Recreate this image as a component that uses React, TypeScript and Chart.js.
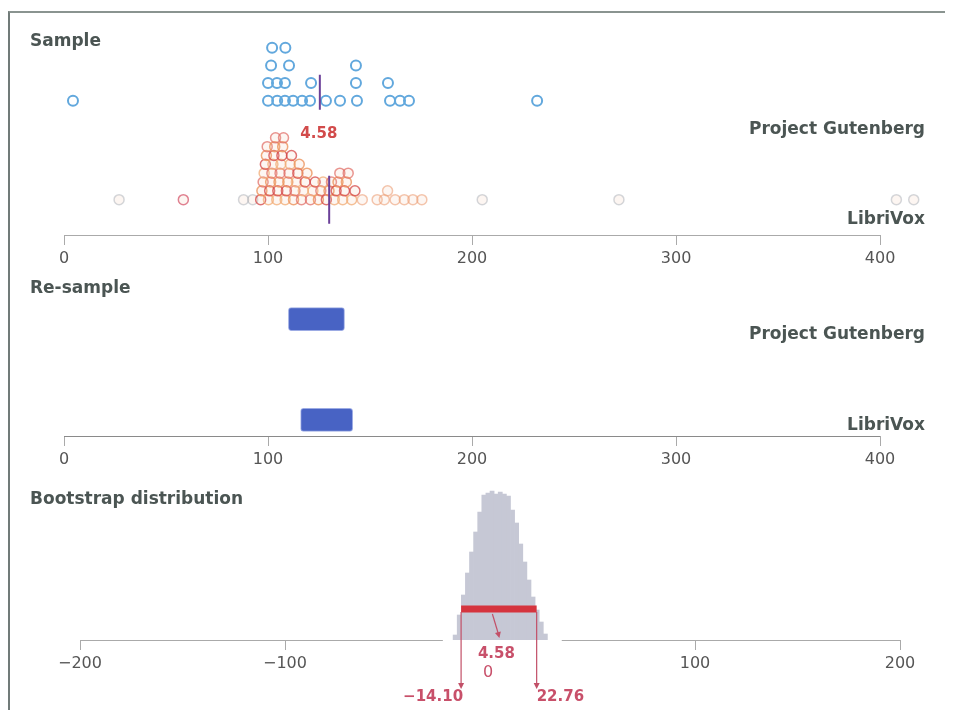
import { useEffect, useRef } from "react";
import { Chart, registerables } from "chart.js";

Chart.register(...registerables);
Chart.defaults.font.family = "'DejaVu Sans', sans-serif";

// ---- Sample: chapter lengths (minutes) ----
const gutenbergMinutes = [
  4.4, 100.0, 104.5, 108.3, 112.3, 116.7, 120.6, 128.4, 135.3, 143.6, 159.8, 164.7, 169.1, 231.9,
  100.0, 104.4, 108.3, 121.1, 143.1, 158.8,
  101.5, 110.3, 143.1,
  102.0, 108.5,
];

const libriVoxMinutes = [
  27.0, 58.5, 88.0, 92.5,
  96.4, 97.0, 97.6, 98.1, 98.7, 99.2, 99.6,
  100.2, 100.8, 101.3, 101.9, 102.4, 102.9, 103.3, 103.7,
  104.3, 104.8, 105.4, 105.9, 106.3, 106.8, 107.2, 107.6,
  108.4, 109.0, 109.7, 110.3, 110.9, 111.5,
  112.5, 113.2, 113.9, 114.6, 115.3,
  116.4, 117.3, 118.2, 119.1,
  120.8, 122.0, 123.1,
  124.7, 125.9, 127.0,
  128.6, 129.9, 131.1,
  132.5, 133.4, 134.3, 135.2,
  136.6, 137.5, 138.4, 139.3,
  141.0, 142.6,
  146.2, 153.5, 157.0, 158.6, 162.3, 166.8, 171.0, 175.4,
  205.0, 272.0, 408.0, 416.5,
];

const meanGutenberg = 125.4;
const meanLibriVox = 129.98;

// ---- Re-sample: spread of re-sampled means ----
const resampleGutenberg = [110, 137.5];
const resampleLibriVox = [116, 141.5];

// ---- Bootstrap distribution of the difference in means ----
const bootstrapDiffs = [-17, -15, -13, -11, -9, -7, -5, -3, -1, 1, 3, 5, 7, 9, 11, 13, 15, 17, 19, 21, 23, 25, 27];
const bootstrapCounts = [5, 25, 45, 67, 88, 108, 128, 145, 147, 149, 146, 148, 146, 144, 130, 117, 96, 78, 60, 43, 30, 18, 6];
const ciLow = -14.1;
const ciHigh = 22.76;

const sampleTicks = [0, 100, 200, 300, 400];
const diffTicks = [-200, -100, 0, 100, 200];

const observedDiff = meanLibriVox - meanGutenberg;
const fmt = (v: number) => v.toFixed(2).replace("-", "\u2212");

// dot-plot layout (y units)
const BIN = 4;
const GUT_BASE = 7.6;
const GUT_STEP = 1;
const LIB_BASE = 2.0;
const LIB_STEP = 0.5;
const LANE_GUT = 6.4;
const LANE_LIB = 0.88;

const W = 937;

function stackDots(values: number[], base: number, step: number) {
  const levels = new Map<number, number>();
  return values.map((v) => {
    const b = Math.floor(v / BIN);
    const n = levels.get(b) ?? 0;
    levels.set(b, n + 1);
    return { x: v, y: base + n * step };
  });
}

const warm = [
  "rgba(212,70,70,0.75)",
  "rgba(236,148,92,0.8)",
  "rgba(224,106,98,0.7)",
  "rgba(242,172,118,0.75)",
];

function libColor(v: number, i: number) {
  if (v < 50 || v > 190 || (v > 80 && v < 95)) return "rgba(160,166,175,0.45)";
  if (v < 80) return "rgba(214,88,110,0.75)";
  if (v > 145) return "rgba(236,160,120,0.6)";
  return warm[i % warm.length];
}

// Value axis: tick marks at the given ticks; the plotted range may run past
// the last tick (hi) so that far points stay inside the chart area.
function valueAxis(ticks: number[], hi: number, label?: (v: number) => string) {
  return {
    type: "linear",
    min: ticks[0],
    max: hi,
    bounds: "data",
    offset: false,
    afterFit: (s: any) => {
      s.height = 40;
    },
    afterBuildTicks: (s: any) => {
      s.ticks = ticks.map((value) => ({ value }));
    },
    border: { display: false },
    grid: { display: true, drawOnChartArea: false, drawTicks: true, tickLength: 10, color: "#aaaaaa", offset: false },
    ticks: {
      color: "#555",
      font: { family: "'DejaVu Sans'", size: 16 },
      padding: 4,
      maxRotation: 0,
      autoSkip: false,
      callback: (v: number) => (label ? label(v) : String(v)),
    },
  };
}

// Axis line running from the first to the last tick
function axisLine(color: string, ticks: number[]) {
  return {
    id: "axisLine",
    beforeDatasetsDraw(chart: any) {
      const { ctx, chartArea: a, scales } = chart;
      const l = scales.x.getPixelForValue(ticks[0]);
      const r = scales.x.getPixelForValue(ticks[ticks.length - 1]);
      const y = Math.round(a.bottom) + 0.5;
      ctx.save();
      ctx.strokeStyle = color;
      ctx.lineWidth = 1;
      ctx.beginPath();
      ctx.moveTo(l, y);
      ctx.lineTo(r, y);
      ctx.stroke();
      ctx.restore();
    },
  };
}

function arrowHead(ctx: CanvasRenderingContext2D, x: number, y: number, dx: number, dy: number, size: number) {
  const len = Math.hypot(dx, dy);
  const ux = dx / len;
  const uy = dy / len;
  ctx.beginPath();
  ctx.moveTo(x, y);
  ctx.lineTo(x - ux * size - uy * size * 0.5, y - uy * size + ux * size * 0.5);
  ctx.lineTo(x - ux * size + uy * size * 0.5, y - uy * size - ux * size * 0.5);
  ctx.closePath();
  ctx.fill();
}

const baseOptions = {
  responsive: false,
  animation: false,
  events: [],
  plugins: { legend: { display: false }, tooltip: { enabled: false } },
};

// Mean markers and difference label on the sample dot plot
const meanLines = {
  id: "meanLines",
  afterDatasetsDraw(chart: any) {
    const { ctx, scales } = chart;
    const { x, y } = scales;
    const gx = x.getPixelForValue(meanGutenberg);
    const lx = x.getPixelForValue(meanLibriVox);
    const gy = y.getPixelForValue(GUT_BASE);
    const ly = y.getPixelForValue(LIB_BASE);
    ctx.save();
    ctx.strokeStyle = "#6b4099";
    ctx.lineWidth = 2;
    ctx.beginPath();
    ctx.moveTo(gx, gy - 26);
    ctx.lineTo(gx, gy + 9);
    ctx.moveTo(lx, ly - 24);
    ctx.lineTo(lx, ly + 24);
    ctx.stroke();
    ctx.fillStyle = "#d24b4b";
    ctx.font = "bold 15px 'DejaVu Sans'";
    ctx.textAlign = "center";
    ctx.textBaseline = "middle";
    ctx.fillText(fmt(observedDiff), gx - 1, ly - 66);
    ctx.restore();
  },
};

// Confidence interval bar, leader arrows and labels on the bootstrap plot
const bootstrapOverlay = {
  id: "bootstrapOverlay",
  beforeDatasetsDraw(chart: any) {
    const { ctx, chartArea: a, scales } = chart;
    const l = scales.x.getPixelForValue(-23);
    const r = scales.x.getPixelForValue(35);
    ctx.save();
    ctx.fillStyle = "#fff";
    ctx.fillRect(l, a.bottom - 2, r - l, 14);
    ctx.restore();
  },
  afterDatasetsDraw(chart: any) {
    const { ctx, chartArea: a, scales } = chart;
    const x = scales.x;
    const xl = x.getPixelForValue(ciLow);
    const xr = x.getPixelForValue(ciHigh);
    const xm = x.getPixelForValue(observedDiff);
    const x0 = x.getPixelForValue(0);
    const yBar = a.bottom - 31;
    ctx.save();
    ctx.strokeStyle = "#d5343e";
    ctx.lineWidth = 7;
    ctx.beginPath();
    ctx.moveTo(xl, yBar);
    ctx.lineTo(xr, yBar);
    ctx.stroke();

    ctx.strokeStyle = "#c25068";
    ctx.fillStyle = "#c25068";
    ctx.lineWidth = 1.2;
    for (const px of [xl, xr]) {
      ctx.beginPath();
      ctx.moveTo(px, yBar + 3);
      ctx.lineTo(px, a.bottom + 44);
      ctx.stroke();
      arrowHead(ctx, px, a.bottom + 49, 0, 1, 6);
    }
    ctx.beginPath();
    ctx.moveTo(xm - 7, yBar + 5);
    ctx.lineTo(xm - 1, a.bottom - 6);
    ctx.stroke();
    arrowHead(ctx, xm, a.bottom - 2, 1, 4, 6);

    ctx.fillStyle = "#c8506a";
    ctx.textBaseline = "middle";
    ctx.font = "bold 15px 'DejaVu Sans'";
    ctx.textAlign = "right";
    ctx.fillText(fmt(ciLow), xl + 2, a.bottom + 57);
    ctx.textAlign = "left";
    ctx.fillText(fmt(ciHigh), xr, a.bottom + 57);
    ctx.textAlign = "center";
    ctx.fillText(fmt(observedDiff), xm - 3, a.bottom + 14);
    ctx.font = "16px 'DejaVu Sans'";
    ctx.fillText("0", x0 - 2, a.bottom + 33);
    ctx.restore();
  },
};

function sampleConfig(): any {
  return {
    type: "scatter",
    data: {
      datasets: [
        {
          data: stackDots(libriVoxMinutes, LIB_BASE, LIB_STEP),
          pointRadius: 5,
          borderWidth: 1.5,
          pointBorderColor: (c: any) => libColor(c.raw ? c.raw.x : 0, c.dataIndex),
          pointBackgroundColor: "rgba(240,180,150,0.12)",
          clip: false,
        },
        {
          data: stackDots(gutenbergMinutes, GUT_BASE, GUT_STEP),
          pointRadius: 5,
          borderWidth: 2,
          pointBorderColor: "#62a8dd",
          pointBackgroundColor: "rgba(255,255,255,0)",
          clip: false,
        },
      ],
    },
    options: {
      ...baseOptions,
      layout: { padding: { left: 56, right: 0.6, top: 4, bottom: 0 } },
      scales: {
        x: valueAxis(sampleTicks, 428.4),
        y: { type: "linear", display: false, min: 0, max: 12 },
      },
    },
    plugins: [axisLine("#aaaaaa", sampleTicks), meanLines],
  };
}

function resampleConfig(): any {
  return {
    type: "bar",
    data: {
      datasets: [
        {
          data: [
            { x: resampleGutenberg, y: LANE_GUT },
            { x: resampleLibriVox, y: LANE_LIB },
          ],
          backgroundColor: "#4863c4",
          borderColor: "rgba(90,115,210,0.6)",
          borderWidth: 1,
          borderRadius: 3,
          borderSkipped: false,
          barThickness: 23,
        },
      ],
    },
    options: {
      ...baseOptions,
      indexAxis: "y",
      layout: { padding: { left: 56, right: 65, top: 12, bottom: 0 } },
      scales: {
        x: valueAxis(sampleTicks, 400),
        y: { type: "linear", display: false, min: 0, max: 8, offset: false, grid: { offset: false } },
      },
    },
    plugins: [axisLine("#8a8a8a", sampleTicks)],
  };
}

function bootstrapConfig(): any {
  return {
    type: "bar",
    data: {
      datasets: [
        {
          data: bootstrapDiffs.map((d, i) => ({ x: d, y: bootstrapCounts[i] })),
          backgroundColor: "#c6c8d5",
          borderWidth: 0,
          barPercentage: 1,
          categoryPercentage: 1,
        },
      ],
    },
    options: {
      ...baseOptions,
      layout: { padding: { left: 72, right: 45, top: 12, bottom: 30 } },
      scales: {
        x: valueAxis(diffTicks, 200, (v) => (v === 0 ? "" : v < 0 ? "\u2212" + Math.abs(v) : String(v))),
        y: { type: "linear", display: false, min: 0, max: 152 },
      },
    },
    plugins: [axisLine("#aaaaaa", diffTicks), bootstrapOverlay],
  };
}

function ChartCanvas({ build, top, height }: { build: () => any; top: number; height: number }) {
  const ref = useRef<HTMLCanvasElement>(null);
  useEffect(() => {
    const chart = new Chart(ref.current as HTMLCanvasElement, build());
    return () => chart.destroy();
  }, [build]);
  return (
    <canvas
      ref={ref}
      width={W}
      height={height}
      style={{ position: "absolute", left: 0, top, width: W, height }}
    />
  );
}

const textBase: React.CSSProperties = {
  position: "absolute",
  fontFamily: "'DejaVu Sans', sans-serif",
  fontWeight: "bold",
  fontSize: 17,
  lineHeight: "20px",
  color: "#4b5553",
  whiteSpace: "nowrap",
};

function Title({ text, top }: { text: string; top: number }) {
  return <div style={{ ...textBase, left: 22, top }}>{text}</div>;
}

function GroupLabel({ text, top }: { text: string; top: number }) {
  return <div style={{ ...textBase, right: 20, top }}>{text}</div>;
}

export default function App() {
  return (
    <div style={{ position: "relative", width: W, height: 702, overflow: "hidden" }}>
      <div
        style={{
          position: "absolute",
          left: 0,
          top: 3,
          right: 0,
          bottom: 0,
          borderLeft: "2px solid #717b79",
          borderTop: "2px solid #8a9490",
        }}
      />
      <ChartCanvas build={sampleConfig} top={8} height={259} />
      <ChartCanvas build={resampleConfig} top={270} height={198} />
      <ChartCanvas build={bootstrapConfig} top={468} height={234} />
      <Title text="Sample" top={22} />
      <GroupLabel text="Project Gutenberg" top={110} />
      <GroupLabel text="LibriVox" top={200} />
      <Title text="Re-sample" top={269} />
      <GroupLabel text="Project Gutenberg" top={315} />
      <GroupLabel text="LibriVox" top={406} />
      <Title text="Bootstrap distribution" top={480} />
    </div>
  );
}
